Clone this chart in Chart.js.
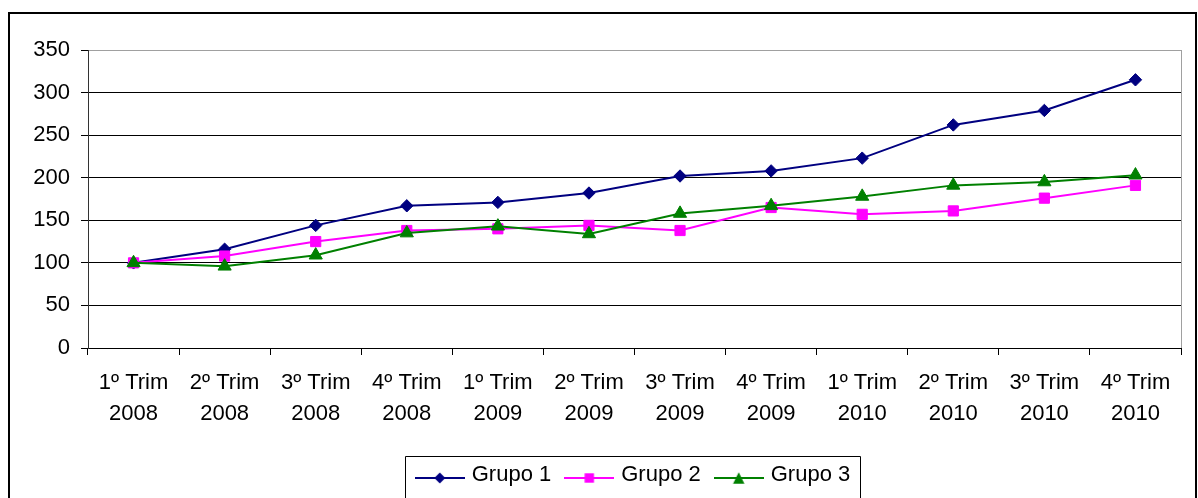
<!DOCTYPE html>
<html lang="pt">
<head>
<meta charset="utf-8">
<title>Grupos por trimestre 2008–2010</title>
<script src="https://cdn.jsdelivr.net/npm/chart.js@4.4.1/dist/chart.umd.min.js"></script>
<style>
  html, body { margin: 0; padding: 0; background: #ffffff; overflow: hidden; }
  canvas { display: block; }
</style>
</head>
<body>
<canvas id="chart" width="1198" height="498"></canvas>
<script>
// Quarter labels (two lines each) and series values
const quarters = ['1º Trim', '2º Trim', '3º Trim', '4º Trim',
                  '1º Trim', '2º Trim', '3º Trim', '4º Trim',
                  '1º Trim', '2º Trim', '3º Trim', '4º Trim'];
const years = ['2008', '2008', '2008', '2008',
               '2009', '2009', '2009', '2009',
               '2010', '2010', '2010', '2010'];
const seriesNames = ['Grupo 1', 'Grupo 2', 'Grupo 3'];
const grupo1 = [100, 116, 144, 167, 171, 182, 202, 208, 223, 262, 279, 315];
const grupo2 = [100, 108, 125, 138, 140, 144, 138, 165, 157, 161, 176, 191];
const grupo3 = [100, 96, 109, 135, 143, 134, 158, 167, 178, 191, 195, 203];
const yTicks = [0, 50, 100, 150, 200, 250, 300, 350];

const FONT = "'Liberation Sans', Arial, Helvetica, sans-serif";
Chart.defaults.font.family = FONT;
Chart.defaults.font.size = 22;
Chart.defaults.color = '#000000';

const NAVY = '#000080';
const MAGENTA = '#FF00FF';
const GREEN = '#008000';

// Small line-plus-marker swatch used as the legend symbol
function legendSample(color, shape, size) {
  const c = document.createElement('canvas');
  c.width = 50; c.height = 28;
  const g = c.getContext('2d');
  g.strokeStyle = color; g.fillStyle = color; g.lineWidth = 2;
  g.beginPath(); g.moveTo(0, 17); g.lineTo(50, 17); g.stroke();
  const cx = 25, cy = 17;
  g.beginPath();
  if (shape === 'rectRot') {
    g.moveTo(cx, cy - size); g.lineTo(cx + size, cy);
    g.lineTo(cx, cy + size); g.lineTo(cx - size, cy);
  } else if (shape === 'rect') {
    g.rect(cx - size, cy - size, 2 * size, 2 * size);
  } else {
    g.moveTo(cx, cy - size); g.lineTo(cx + size, cy + size);
    g.lineTo(cx - size, cy + size);
  }
  g.closePath(); g.fill();
  return c;
}
const samples = [
  legendSample(NAVY, 'rectRot', 5.5),
  legendSample(MAGENTA, 'rect', 4.7),
  legendSample(GREEN, 'triangle', 5.7)
];

// Frame of the chart, right edge of the plot and the legend box
const framePlugin = {
  id: 'frame',
  beforeDatasetsDraw(chart) {
    const { ctx, chartArea } = chart;
    const x = Math.round(chartArea.right) + 0.5;
    ctx.save();
    ctx.strokeStyle = '#a0a0a0';
    ctx.lineWidth = 1;
    ctx.beginPath();
    ctx.moveTo(x, Math.round(chartArea.top));
    ctx.lineTo(x, Math.round(chartArea.bottom));
    ctx.stroke();
    ctx.restore();
  },
  afterDraw(chart) {
    const { ctx } = chart;
    ctx.save();
    ctx.strokeStyle = '#000000';
    ctx.lineWidth = 2;
    ctx.beginPath();
    ctx.moveTo(9, 505);
    ctx.lineTo(9, 13);
    ctx.lineTo(1196, 13);
    ctx.lineTo(1196, 505);
    ctx.stroke();

    const lg = chart.legend;
    const hb = lg.legendHitBoxes;
    if (hb && hb.length) {
      const first = hb[0], last = hb[hb.length - 1];
      const left = Math.round(first.left - 14) + 0.5;
      const right = Math.round(last.left + last.width + 10) + 0.5;
      const top = Math.round(lg.top + 9) + 0.5;
      ctx.lineWidth = 1;
      ctx.beginPath();
      ctx.moveTo(left, 510);
      ctx.lineTo(left, top);
      ctx.lineTo(right, top);
      ctx.lineTo(right, 510);
      ctx.stroke();
    }
    ctx.restore();
  }
};

const labels = quarters.map((q, i) => [q, years[i]]);

new Chart(document.getElementById('chart'), {
  type: 'line',
  data: {
    labels,
    datasets: [
      {
        label: seriesNames[0], data: grupo1, order: 3,
        borderColor: NAVY, backgroundColor: NAVY,
        pointStyle: 'rectRot', pointRadius: 6.2, pointHoverRadius: 6.2,
        pointBorderWidth: 1
      },
      {
        label: seriesNames[1], data: grupo2, order: 2,
        borderColor: MAGENTA, backgroundColor: MAGENTA,
        pointStyle: 'rect', pointRadius: 7.2, pointHoverRadius: 7.2,
        pointBorderWidth: 1
      },
      {
        label: seriesNames[2], data: grupo3, order: 1,
        borderColor: GREEN, backgroundColor: GREEN,
        pointStyle: 'triangle', pointRadius: 7.6, pointHoverRadius: 7.6,
        pointBorderWidth: 1
      }
    ]
  },
  options: {
    responsive: false,
    devicePixelRatio: 1,
    animation: false,
    events: [],
    elements: {
      line: { borderWidth: 2, tension: 0, fill: false }
    },
    layout: { padding: { left: 0, right: 17, top: 50, bottom: 2 } },
    scales: {
      x: {
        type: 'category',
        offset: true,
        afterFit(scale) { scale.height = 99; },
        grid: {
          offset: true,
          drawOnChartArea: false,
          drawTicks: true,
          tickLength: 7,
          color: '#000000',
          lineWidth: 1
        },
        border: { color: '#000000', width: 1 },
        ticks: {
          autoSkip: false,
          maxRotation: 0,
          minRotation: 0,
          padding: 13,
          color: '#000000',
          font: { size: 22, lineHeight: 1.38 }
        }
      },
      y: {
        min: yTicks[0],
        max: yTicks[yTicks.length - 1],
        afterFit(scale) { scale.width = 88; },
        afterBuildTicks(scale) { scale.ticks = yTicks.map(v => ({ value: v })); },
        grid: {
          color: (c) => (c.tick && c.tick.value === 350 ? '#a0a0a0' : '#000000'),
          tickColor: '#000000',
          lineWidth: 1,
          tickLength: 7
        },
        border: { color: '#333333', width: 1 },
        ticks: {
          padding: 11,
          color: '#000000',
          font: { size: 22 }
        }
      }
    },
    plugins: {
      tooltip: { enabled: false },
      title: { display: false },
      legend: {
        display: true,
        position: 'bottom',
        fullSize: false,
        labels: {
          usePointStyle: true,
          pointStyleWidth: 42,
          padding: 17,
          color: '#000000',
          font: { size: 22 },
          generateLabels(chart) {
            return chart.data.datasets.map((ds, i) => ({
              text: ds.label,
              pointStyle: samples[i],
              fillStyle: ds.backgroundColor,
              strokeStyle: ds.borderColor,
              lineWidth: 0,
              hidden: false,
              datasetIndex: i,
              fontColor: '#000000'
            }));
          }
        }
      }
    }
  },
  plugins: [framePlugin]
});
</script>
</body>
</html>
